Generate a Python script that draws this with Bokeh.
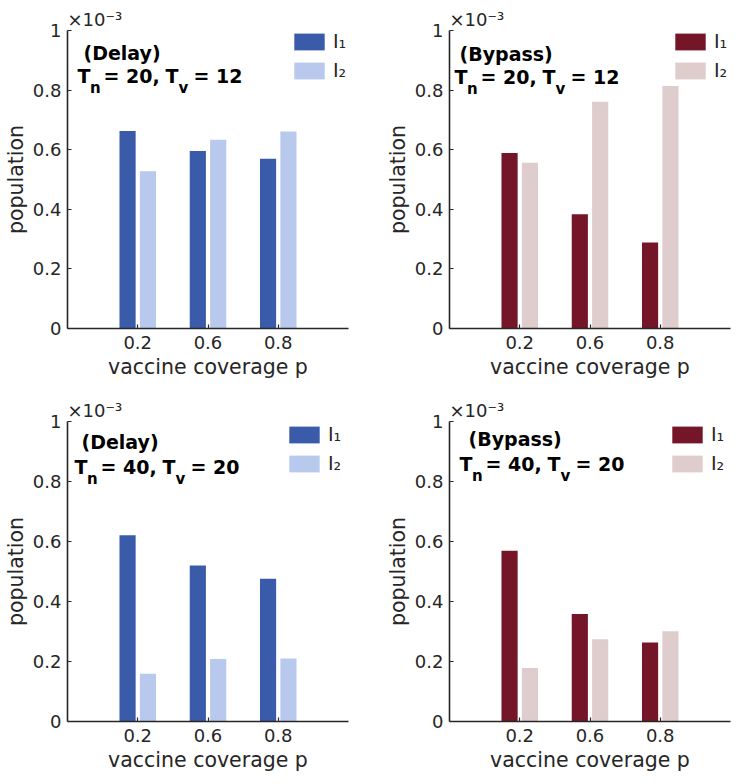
from bokeh.plotting import figure
from bokeh.models import Range1d, FixedTicker, Label, Legend, LegendItem, ColumnDataSource, Title
from bokeh.layouts import column, row
from bokeh.transform import dodge
from bokeh.embed import file_html
from bokeh.resources import INLINE

# ---------------- data (population in units of 1e-3) ----------------
coverage_labels = ["0.2", "0.6", "0.8"]

delay_20_12_I1 = [0.663, 0.596, 0.570]
delay_20_12_I2 = [0.528, 0.633, 0.661]
bypass_20_12_I1 = [0.589, 0.383, 0.289]
bypass_20_12_I2 = [0.556, 0.761, 0.814]
delay_40_20_I1 = [0.621, 0.520, 0.476]
delay_40_20_I2 = [0.159, 0.208, 0.210]
bypass_40_20_I1 = [0.569, 0.358, 0.263]
bypass_40_20_I2 = [0.178, 0.274, 0.301]

y_ticks = [0, 0.2, 0.4, 0.6, 0.8, 1]
y_tick_labels = ["0", "0.2", "0.4", "0.6", "0.8", "1"]
exponent_label = "\u00d710\u207b\u00b3"

series_labels = ["I\u2081", "I\u2082"]
delay_colors = ["#3A5AAA", "#B9C9EE"]
bypass_colors = ["#741628", "#DFCCCD"]

FONT = "DejaVu Sans"
AX = "#262626"
FW = 281


def add_text(p, text, dx, dy, size, bold=True, color="black"):
    p.add_layout(Label(x=0, y=1, x_units="data", y_units="data",
                       x_offset=dx, y_offset=-dy, text=text,
                       text_font=FONT, text_font_size=size,
                       text_font_style="bold" if bold else "normal",
                       text_baseline="alphabetic", text_align="left",
                       text_color=color))


def panel(i1, i2, colors, mode, tn, tv, mode_pos, t_pos, leg_off, fh,
          border_top, border_bottom, border_right):
    pos = list(range(1, len(coverage_labels) + 1))
    src = ColumnDataSource(dict(pos=pos, i1=i1, i2=i2))
    p = figure(frame_width=FW, frame_height=fh,
               x_range=Range1d(0, len(coverage_labels) + 1), y_range=Range1d(0, 1),
               output_backend="svg", toolbar_location=None,
               min_border_left=60, min_border_right=border_right,
               min_border_top=border_top, min_border_bottom=border_bottom)
    p.title.visible = False
    p.outline_line_color = None
    p.xgrid.visible = False
    p.ygrid.visible = False

    r1 = p.vbar(x=dodge("pos", -0.145), top="i1", width=0.23, source=src,
                fill_color=colors[0], line_color=None)
    r2 = p.vbar(x=dodge("pos", 0.145), top="i2", width=0.23, source=src,
                fill_color=colors[1], line_color=None)

    # axes
    p.xaxis.ticker = FixedTicker(ticks=pos)
    p.xaxis.major_label_overrides = {k: v for k, v in zip(pos, coverage_labels)}
    p.yaxis.ticker = FixedTicker(ticks=y_ticks)
    p.yaxis.major_label_overrides = {k: v for k, v in zip(y_ticks, y_tick_labels)}
    p.xaxis.axis_label = "vaccine coverage p"
    p.yaxis.axis_label = "population"
    for ax in (p.xaxis, p.yaxis):
        ax.axis_line_color = AX
        ax.axis_line_width = 1.6
        ax.major_tick_line_color = AX
        ax.major_tick_line_width = 1.2
        ax.major_tick_in = 4
        ax.major_tick_out = 0
        ax.minor_tick_line_color = None
        ax.major_label_text_font = FONT
        ax.major_label_text_font_size = "18px"
        ax.major_label_text_color = AX
        ax.axis_label_text_font = FONT
        ax.axis_label_text_font_size = "20.5px"
        ax.axis_label_text_font_style = "normal"
        ax.axis_label_text_color = AX
    p.xaxis.major_label_standoff = 7
    p.xaxis.axis_label_standoff = 3
    p.yaxis.major_label_standoff = 6
    p.yaxis.axis_label_standoff = 2

    # exponent above the y axis
    p.add_layout(Title(text=exponent_label, align="left", offset=0, standoff=2,
                       text_font=FONT, text_font_size="18px",
                       text_font_style="normal", text_color=AX), "above")

    # panel annotation
    add_text(p, mode, mode_pos[0], mode_pos[1], "19px")
    tx, tb = t_pos
    add_text(p, "T", tx, tb, "19px")
    add_text(p, "n", tx + 12.5, tb + 12, "15px")
    add_text(p, "= %d," % tn, tx + 26, tb, "19px")
    add_text(p, "T", tx + 88, tb, "19px")
    add_text(p, "v", tx + 101, tb + 12, "15px")
    add_text(p, "= %d" % tv, tx + 116, tb, "19px")

    legend = Legend(items=[LegendItem(label=series_labels[0], renderers=[r1]),
                           LegendItem(label=series_labels[1], renderers=[r2])],
                    location=(FW - leg_off[0], fh - leg_off[1] - 49),
                    orientation="vertical",
                    padding=0, margin=0, spacing=7,
                    glyph_width=38, glyph_height=21, label_height=21,
                    label_standoff=5, label_text_font=FONT,
                    label_text_font_size="19px", label_text_color=AX,
                    background_fill_alpha=0, border_line_alpha=0)
    p.add_layout(legend)
    return p


p1 = panel(delay_20_12_I1, delay_20_12_I2, delay_colors, "(Delay)", 20, 12,
           (16, 22), (10, 45), (58, 2), 298, 30, 55, 34)
p2 = panel(bypass_20_12_I1, bypass_20_12_I2, bypass_colors, "(Bypass)", 20, 12,
           (10, 23), (5, 46), (59, 2), 298, 30, 55, 4)
p3 = panel(delay_40_20_I1, delay_40_20_I2, delay_colors, "(Delay)", 40, 20,
           (14, 20), (7, 45), (63, 4), 300, 38, 54, 34)
p4 = panel(bypass_40_20_I1, bypass_40_20_I2, bypass_colors, "(Bypass)", 40, 20,
           (19, 17), (10, 42), (62, 4), 300, 38, 54, 4)

layout = column(row(p1, p2), row(p3, p4))

open("out.html", "w").write(file_html(layout, INLINE))
